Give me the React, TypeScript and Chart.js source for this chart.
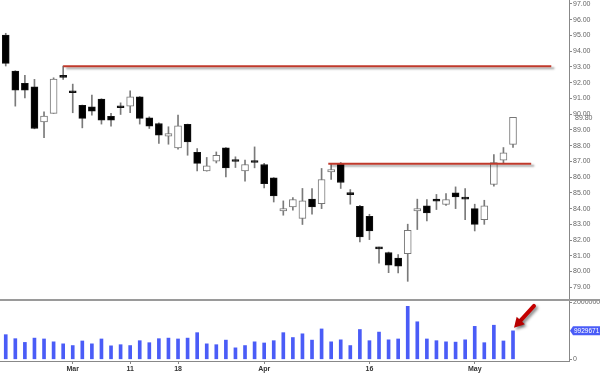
import React, { useEffect, useRef } from "react";
import { Chart, registerables } from "chart.js";

Chart.register(...registerables);

// ---- Data ----
const opens = [
  95.03, 92.74, 91.96, 91.74, 89.51, 90.05, 92.46, 91.48, 90.56, 90.47,
  90.96, 89.86, 90.45, 90.51, 91.10, 89.77, 89.41, 88.60, 87.86, 89.35,
  87.57, 86.40, 87.01, 87.86, 87.03, 86.40, 87.01, 86.80, 85.95, 83.85,
  84.11, 83.37, 84.60, 84.32, 86.33, 86.82, 84.93, 84.15, 83.51, 81.48,
  81.21, 80.86, 81.14, 83.85, 84.17, 84.61, 84.26, 85.00, 84.70, 84.00,
  83.30, 85.53, 87.08, 88.08,
];
const highs = [
  95.14, 92.76, 92.46, 92.21, 90.15, 92.31, 93.05, 91.91, 90.58, 91.21,
  90.98, 90.05, 90.72, 91.48, 91.12, 89.83, 89.45, 89.20, 89.94, 89.37,
  87.82, 87.25, 87.60, 87.88, 87.29, 87.08, 87.92, 86.87, 85.97, 84.49,
  84.70, 85.28, 85.28, 86.55, 86.82, 86.93, 85.21, 84.21, 83.64, 81.56,
  81.24, 81.08, 83.01, 84.60, 84.58, 84.90, 84.96, 85.38, 85.28, 84.28,
  84.53, 87.44, 87.88, 89.80,
];
const lows = [
  93.06, 90.51, 91.04, 89.07, 88.50, 90.05, 92.21, 90.09, 89.13, 89.94,
  89.37, 89.24, 89.98, 90.09, 89.37, 89.09, 88.14, 88.09, 87.78, 87.39,
  86.40, 86.38, 86.90, 86.01, 86.61, 85.74, 86.59, 85.31, 84.42, 83.58,
  83.90, 82.99, 83.64, 84.00, 85.85, 85.28, 84.28, 81.88, 82.03, 80.54,
  79.93, 79.91, 79.38, 82.67, 83.21, 83.94, 84.21, 84.00, 83.30, 82.58,
  83.00, 85.42, 86.90, 87.88,
];
const closes = [
  93.23, 91.53, 91.53, 89.09, 89.88, 92.23, 92.34, 91.36, 89.73, 90.19,
  89.62, 89.62, 90.41, 91.10, 89.73, 89.24, 88.67, 88.77, 89.26, 88.24,
  86.87, 86.71, 87.39, 86.59, 86.99, 86.80, 86.93, 85.59, 84.81, 84.00,
  84.58, 84.49, 84.11, 85.85, 86.48, 85.66, 84.89, 82.20, 82.58, 81.44,
  80.40, 80.35, 82.62, 84.00, 83.72, 84.47, 84.58, 84.74, 84.60, 83.00,
  84.17, 86.93, 87.54, 89.80,
];
const volumes = [
  8600000, 7200000, 5900000, 7400000, 7100000, 6100000, 5400000, 4800000, 6400000, 5400000,
  7100000, 4700000, 5100000, 4800000, 6500000, 5800000, 7200000, 7400000, 7100000, 7400000,
  9300000, 5400000, 5100000, 6700000, 4000000, 4800000, 6100000, 5700000, 6500000, 9300000,
  7600000, 8900000, 6700000, 10600000, 6100000, 6800000, 4800000, 10400000, 6500000, 9500000,
  6800000, 7100000, 18500000, 13100000, 7100000, 6500000, 6100000, 6000000, 6800000, 11500000,
  5800000, 11900000, 6400000, 9929671,
];
const xTickIndex = [7, 13, 18, 27, 38, 49];
const xTickLabels = ["Mar", "11", "18", "Apr", "16", "May"];
const priceTicks = [79, 80, 81, 82, 83, 84, 85, 86, 87, 88, 89, 90, 91, 92, 93, 94, 95, 96, 97];
const volumeTicks = [0, 20000000];
const levelValues = [93.05, 86.85];
const levelStarts = [6, 33.7];
const levelEnds = [57, 54.9];

const FONT = "'Liberation Sans', Arial, sans-serif";

const extrasPlugin = {
  id: "extras",
  beforeDatasetDraw(chart: any, args: any) {
    const ds = chart.data.datasets[args.index];
    if (ds && ds.isLevel) {
      const ctx = chart.ctx;
      ctx.save();
      ctx.shadowColor = "rgba(0,0,0,0.35)";
      ctx.shadowBlur = 2;
      ctx.shadowOffsetX = 3;
      ctx.shadowOffsetY = 2;
    }
  },
  afterDatasetDraw(chart: any, args: any) {
    const ds = chart.data.datasets[args.index];
    if (ds && ds.isLevel) chart.ctx.restore();
  },
  afterDraw(chart: any) {
    const ctx = chart.ctx;
    const y = chart.scales.y;
    const vol = chart.scales.vol;
    const right = chart.chartArea.right;
    ctx.save();
    // separator between panels
    ctx.fillStyle = "#9a9a9a";
    ctx.fillRect(0, vol.top - 1, chart.width, 2);

    // last price label
    const lastClose = closes[closes.length - 1];
    const py = y.getPixelForValue(lastClose);
    ctx.font = `7px ${FONT}`;
    ctx.textBaseline = "middle";
    ctx.textAlign = "left";
    ctx.fillStyle = "#666";
    ctx.fillText(lastClose.toFixed(2), right + 6, py + 1);

    // last volume label box
    const lastVol = volumes[volumes.length - 1];
    const vy = vol.getPixelForValue(lastVol);
    ctx.fillStyle = "#4a5cf7";
    ctx.beginPath();
    ctx.moveTo(right + 1, vy);
    ctx.lineTo(right + 4, vy - 4.5);
    ctx.lineTo(chart.width, vy - 4.5);
    ctx.lineTo(chart.width, vy + 4.5);
    ctx.lineTo(right + 4, vy + 4.5);
    ctx.closePath();
    ctx.fill();
    ctx.fillStyle = "#ffffff";
    ctx.font = `6.5px ${FONT}`;
    ctx.fillText(String(lastVol), right + 5, vy + 0.5);

    // arrow pointing at last volume bar
    const vmeta = chart.getDatasetMeta(chart.data.datasets.length - 1);
    const bar = vmeta.data[vmeta.data.length - 1];
    const tipX = bar.x + 1;
    const tipY = bar.y - 3;
    const tailX = tipX + 20;
    const tailY = tipY - 22;
    const ang = Math.atan2(tipY - tailY, tipX - tailX);
    const headLen = 10;
    const headW = 5.5;
    const baseX = tipX - headLen * Math.cos(ang);
    const baseY = tipY - headLen * Math.sin(ang);
    ctx.shadowColor = "rgba(0,0,0,0.45)";
    ctx.shadowBlur = 3;
    ctx.shadowOffsetX = 2;
    ctx.shadowOffsetY = 2;
    ctx.strokeStyle = "#c40000";
    ctx.lineWidth = 4;
    ctx.lineCap = "round";
    ctx.beginPath();
    ctx.moveTo(tailX, tailY);
    ctx.lineTo(baseX + 2 * Math.cos(ang), baseY + 2 * Math.sin(ang));
    ctx.stroke();
    ctx.fillStyle = "#b80000";
    ctx.beginPath();
    ctx.moveTo(tipX, tipY);
    ctx.lineTo(baseX + headW * Math.sin(ang), baseY - headW * Math.cos(ang));
    ctx.lineTo(baseX - headW * Math.sin(ang), baseY + headW * Math.cos(ang));
    ctx.closePath();
    ctx.fill();
    ctx.restore();
  },
};

export default function App() {
  const canvasRef = useRef<HTMLCanvasElement | null>(null);

  useEffect(() => {
    const canvas = canvasRef.current;
    if (!canvas) return;

    const bodyColors = opens.map((o, i) => (closes[i] >= o ? "#ffffff" : "#000000"));
    const bodyBorders = opens.map((o, i) => (closes[i] >= o ? "#777777" : "#111111"));

    const levelDatasets = levelValues.map((lv, k) => ({
      type: "line" as const,
      label: `level${k}`,
      isLevel: true,
      data: [
        { x: levelStarts[k], y: lv },
        { x: levelEnds[k], y: lv },
      ],
      borderColor: "#c0392b",
      borderWidth: 2,
      pointRadius: 0,
      xAxisID: "x",
      yAxisID: "y",
      order: -1,
    }));

    const chart = new Chart(canvas, {
      type: "bar",
      data: {
        datasets: [
          ...levelDatasets,
          {
            type: "bar",
            label: "body",
            data: opens.map((o, i) => ({ x: i, y: [o, closes[i]] })),
            backgroundColor: bodyColors,
            borderColor: bodyBorders,
            borderWidth: 1,
            borderSkipped: false,
            barThickness: 7,
            minBarLength: 2,
            grouped: false,
            xAxisID: "x",
            yAxisID: "y",
            order: 1,
          },
          {
            type: "bar",
            label: "wick",
            data: lows.map((l, i) => ({ x: i, y: [l, highs[i]] })),
            backgroundColor: "#7a7a7a",
            borderWidth: 0,
            barThickness: 1,
            grouped: false,
            xAxisID: "x",
            yAxisID: "y",
            order: 2,
          },
          {
            type: "bar",
            label: "volume",
            data: volumes.map((v, i) => ({ x: i, y: v })),
            backgroundColor: "#4a5cf7",
            borderWidth: 0,
            barThickness: 3,
            grouped: false,
            xAxisID: "x",
            yAxisID: "vol",
            order: 3,
          },
        ] as any,
      },
      options: {
        animation: false,
        responsive: false,
        devicePixelRatio: 1,
        layout: { padding: 0 },
        plugins: { legend: { display: false }, tooltip: { enabled: false } },
        scales: {
          x: {
            type: "linear",
            position: "bottom",
            offset: false,
            bounds: "data",
            min: -0.6,
            max: 58.85,
            afterBuildTicks: (s: any) => {
              s.ticks = xTickIndex.map((v) => ({ value: v }));
            },
            ticks: {
              autoSkip: false,
              maxRotation: 0,
              padding: 1,
              color: "#333",
              font: { size: 7, weight: "bold", family: FONT },
              callback: (v: any) => {
                const k = xTickIndex.indexOf(Number(v));
                return k >= 0 ? xTickLabels[k] : "";
              },
            },
            grid: { drawOnChartArea: false, offset: false, tickLength: 3, color: "#888" },
            border: { color: "#888", width: 1 },
            afterFit: (s: any) => {
              s.height = 12;
              s.paddingLeft = 0;
              s.paddingRight = 0;
            },
          },
          y: {
            type: "linear",
            position: "right",
            stack: "panels",
            stackWeight: 300,
            min: 78.193,
            max: 97.254,
            afterBuildTicks: (s: any) => {
              s.ticks = priceTicks.map((v) => ({ value: v }));
            },
            ticks: {
              autoSkip: false,
              padding: 1,
              color: "#666",
              font: { size: 7, family: FONT },
              callback: (v: any) => Number(v).toFixed(2),
            },
            grid: { drawOnChartArea: false, tickLength: 3, color: "#888" },
            border: { color: "#888", width: 1 },
            afterFit: (s: any) => {
              s.width = 31;
              s.paddingTop = 0;
              s.paddingBottom = 0;
            },
          },
          vol: {
            type: "linear",
            position: "right",
            stack: "panels",
            stackWeight: 61,
            min: -590000,
            max: 20700000,
            afterBuildTicks: (s: any) => {
              s.ticks = volumeTicks.map((v) => ({ value: v }));
            },
            ticks: {
              autoSkip: false,
              padding: 1,
              color: "#666",
              font: { size: 7, family: FONT },
              callback: (v: any) => String(v),
            },
            grid: { drawOnChartArea: false, tickLength: 3, color: "#888" },
            border: { color: "#888", width: 1 },
            afterFit: (s: any) => {
              s.width = 31;
              s.paddingTop = 0;
              s.paddingBottom = 0;
            },
          },
        } as any,
      },
      plugins: [extrasPlugin],
    });

    return () => chart.destroy();
  }, []);

  return (
    <div style={{ position: "fixed", left: 0, top: 0, width: 600, height: 373, background: "#fff" }}>
      <canvas ref={canvasRef} width={600} height={373} style={{ display: "block" }} />
    </div>
  );
}
